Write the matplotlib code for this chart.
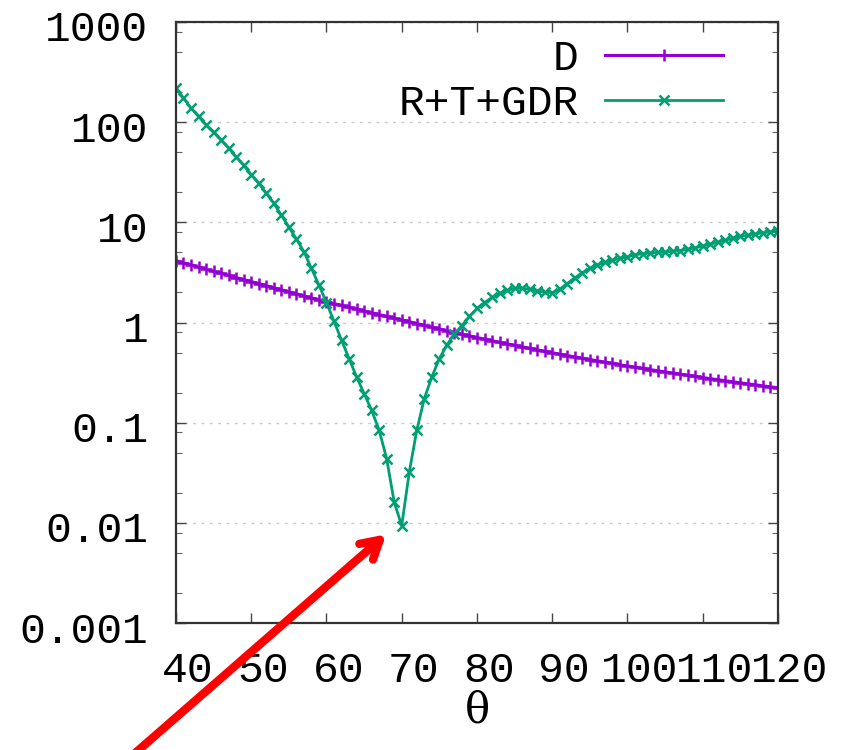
import numpy as np
import matplotlib
matplotlib.use("Agg")
import matplotlib.pyplot as plt
import matplotlib.transforms as mtransforms
from matplotlib.ticker import LogLocator, FixedLocator, NullFormatter


# angle grid (degrees)
theta = np.arange(40, 121)

# D channel
d_vals = [
    4.13, 3.94, 3.75, 3.57, 3.40, 3.24, 3.09, 2.95, 2.81, 2.68,
    2.56, 2.44, 2.33, 2.22, 2.12, 2.02, 1.93, 1.84, 1.76, 1.68,
    1.60, 1.54, 1.48, 1.42, 1.36, 1.30, 1.25, 1.20, 1.15, 1.10,
    1.06, 1.02, 0.975, 0.935, 0.897, 0.861, 0.826, 0.794, 0.764, 0.735,
    0.708, 0.682, 0.658, 0.634, 0.612, 0.592, 0.571, 0.552, 0.533, 0.515,
    0.499, 0.483, 0.468, 0.453, 0.440, 0.427, 0.414, 0.402, 0.390, 0.378,
    0.368, 0.358, 0.348, 0.339, 0.330, 0.321, 0.313, 0.305, 0.297, 0.290,
    0.282, 0.275, 0.269, 0.262, 0.256, 0.250, 0.244, 0.239, 0.233, 0.228,
    0.223,
]

# R+T+GDR channel
rtg_vals = [
    219, 174, 138, 114, 94, 79, 66.5, 55, 45, 37,
    30, 24.5, 19.5, 15.5, 11.8, 9.0, 6.8, 5.1, 3.47, 2.36,
    1.58, 1.03, 0.665, 0.437, 0.286, 0.195, 0.133, 0.084, 0.0436, 0.0161,
    0.0094, 0.032, 0.084, 0.174, 0.286, 0.436, 0.593, 0.776, 0.93, 1.15,
    1.38, 1.58, 1.78, 1.95, 2.09, 2.19, 2.20, 2.14, 2.07, 2.00,
    1.99, 2.14, 2.45, 2.79, 3.13, 3.47, 3.76, 3.98, 4.17, 4.37,
    4.52, 4.75, 4.85, 4.93, 5.00, 5.05, 5.12, 5.22, 5.38, 5.57,
    5.80, 6.05, 6.32, 6.62, 6.92, 7.22, 7.45, 7.65, 7.85, 8.05,
    8.25,
]

xticks = [40, 50, 60, 70, 80, 90, 100, 110, 120]
yticks = [0.001, 0.01, 0.1, 1, 10, 100, 1000]
ytick_labels = ["0.001", "0.01", "0.1", "1", "10", "100", "1000"]

mono = "Liberation Mono"
fs = 31

fig = plt.figure(figsize=(8.44, 7.5), dpi=100)
ax = fig.add_axes([0.2085, 0.1693, 0.7133, 0.8014])

ax.plot(theta, d_vals, color="#9400d3", lw=2.2, marker="+",
        ms=9, mew=1.8, label="D")
ax.plot(theta, rtg_vals, color="#009e73", lw=2.0, marker="x",
        ms=7, mew=1.8, label="R+T+GDR")

ax.set_yscale("log")
ax.set_xlim(40, 120)
ax.set_ylim(0.001, 1000)

ax.xaxis.set_major_locator(FixedLocator(xticks))
ax.set_xticklabels([str(t) for t in xticks], fontsize=fs, family=mono)
ax.yaxis.set_major_locator(FixedLocator(yticks))
ax.set_yticklabels(ytick_labels, fontsize=fs, family=mono)
ax.yaxis.set_minor_locator(LogLocator(base=10, subs=[2, 5, 8]))
ax.yaxis.set_minor_formatter(NullFormatter())

ax.tick_params(axis="both", which="major", direction="in", length=7,
               width=1.0, color="#444444", top=True, right=True)
ax.tick_params(axis="y", which="minor", direction="in", length=4,
               width=0.8, color="#666666", right=True)
ax.tick_params(axis="x", pad=20)
ax.tick_params(axis="y", pad=20)

# gnuplot-style label placement: x labels nudged right, y labels a bit down
dx = mtransforms.ScaledTranslation(12 / 100, 0, fig.dpi_scale_trans)
for lab in ax.get_xticklabels():
    lab.set_transform(lab.get_transform() + dx)
dy = mtransforms.ScaledTranslation(0, -4 / 100, fig.dpi_scale_trans)
for lab in ax.get_yticklabels():
    lab.set_transform(lab.get_transform() + dy)

for s in ax.spines.values():
    s.set_linewidth(1.6)
    s.set_color("#333333")

ax.grid(True, axis="y", which="major", color="#c8c8c8",
        linestyle=(0, (2, 4)), lw=1.0)

ax.set_xlabel("θ", fontsize=30, family="DejaVu Serif", labelpad=-1)

ax.legend(loc="upper right", bbox_to_anchor=(0.9086, 0.972), frameon=False,
          markerfirst=False, handlelength=2.75, handletextpad=0.6,
          labelspacing=0.12, borderpad=0, borderaxespad=0,
          prop={"family": mono, "size": fs})

# red arrow pointing at the minimum
ax.annotate("", xy=(68.2, 0.008), xycoords="data",
            xytext=(-0.072, -0.22), textcoords="axes fraction",
            arrowprops=dict(arrowstyle="->,head_length=1.3,head_width=0.75",
                            color="#ff0000", lw=6),
            annotation_clip=False)

fig.savefig("out.png", dpi=100)
